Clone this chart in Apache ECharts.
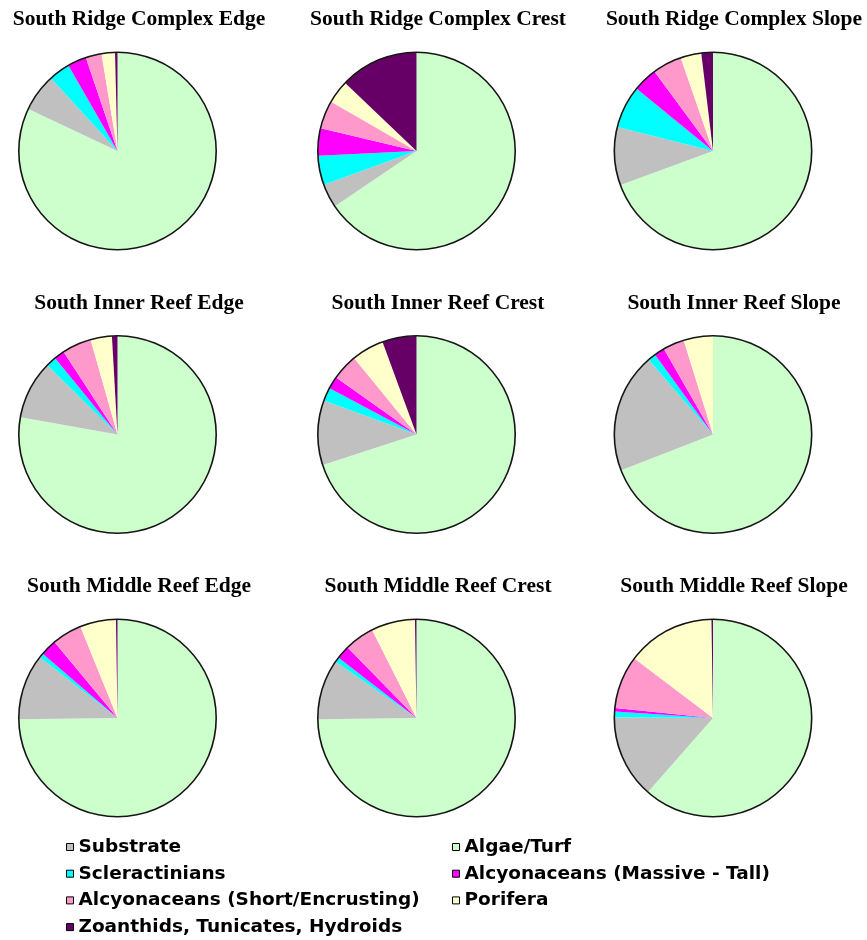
<!DOCTYPE html>
<html>
<head>
<meta charset="utf-8">
<script src="https://cdn.jsdelivr.net/npm/echarts@6/dist/echarts.min.js"></script>
<style>
  html, body { margin: 0; padding: 0; background: #ffffff; }
  #chart { width: 867px; height: 940px; }
</style>
</head>
<body>
<div id="chart"></div>
<script>
// Survey sites, in grid order (row by row)
const sites = [
  'South Ridge Complex Edge', 'South Ridge Complex Crest', 'South Ridge Complex Slope',
  'South Inner Reef Edge', 'South Inner Reef Crest', 'South Inner Reef Slope',
  'South Middle Reef Edge', 'South Middle Reef Crest', 'South Middle Reef Slope'
];

// Percent cover per site for each benthic category
const algaeTurf     = [82.1, 65.6, 69.4, 77.8, 70.0, 69.1, 75.0, 75.0, 61.7];
const substrate     = [ 6.2,  3.9,  9.5,  9.6, 10.6, 19.6, 10.8,  9.9, 13.7];
const scleractinian = [ 3.5,  4.8,  7.0,  1.7,  2.2,  1.3,  0.7,  0.8,  0.9];
const alcyMassive   = [ 3.1,  4.5,  4.0,  1.7,  2.0,  1.7,  2.7,  2.2,  0.6];
const alcyShort     = [ 2.6,  4.6,  4.8,  4.8,  4.3,  3.5,  4.9,  4.9,  8.7];
const porifera      = [ 2.2,  3.8,  3.4,  3.5,  5.3,  4.8,  5.9,  7.2, 14.5];
const zoanthids     = [ 0.4, 12.9,  1.9,  0.9,  5.6,  0.0,  0.25, 0.25, 0.25];

// Category names (slice order, clockwise from 12 o'clock)
const sliceOrder = [
  ['Algae/Turf', algaeTurf, '#CCFFCC'],
  ['Substrate', substrate, '#C0C0C0'],
  ['Scleractinians', scleractinian, '#00FFFF'],
  ['Alcyonaceans (Massive - Tall)', alcyMassive, '#FF00FF'],
  ['Alcyonaceans (Short/Encrusting)', alcyShort, '#FF99CC'],
  ['Porifera', porifera, '#FFFFCC'],
  ['Zoanthids, Tunicates, Hydroids', zoanthids, '#660066']
];

// Legend columns
const legendLeft  = ['Substrate', 'Scleractinians', 'Alcyonaceans (Short/Encrusting)', 'Zoanthids, Tunicates, Hydroids'];
const legendRight = ['Algae/Turf', 'Alcyonaceans (Massive - Tall)', 'Porifera'];

// Grid geometry
const colX   = [117.5, 416.5, 713];
const rowY   = [151, 434.5, 718];
const titleX = [139, 438, 734];
const titleTop = [8.5, 292, 575.5];
const R = 98.5;

const series = [];
const titles = [];
sites.forEach((site, i) => {
  const c = i % 3, r = Math.floor(i / 3);
  const center = [colX[c], rowY[r]];
  series.push({
    type: 'pie',
    name: site,
    center: center,
    radius: [0, R],
    startAngle: 90,
    clockwise: true,
    silent: true,
    avoidLabelOverlap: false,
    label: { show: false },
    labelLine: { show: false },
    emphasis: { disabled: true },
    itemStyle: { borderWidth: 0 },
    data: sliceOrder.map(([name, vals, color]) => ({
      name: name, value: vals[i], itemStyle: { color: color }
    }))
  });
  // dark rim around each pie
  series.push({
    type: 'pie',
    name: site + ' rim',
    center: center,
    radius: [R - 0.6, R + 1.0],
    silent: true,
    label: { show: false },
    labelLine: { show: false },
    emphasis: { disabled: true },
    data: [{ name: 'rim', value: 1, itemStyle: { color: '#151515' } }]
  });
  titles.push({
    text: site,
    left: titleX[c],
    top: titleTop[r],
    textAlign: 'center',
    padding: 0,
    textStyle: {
      fontFamily: '"Liberation Serif", "Times New Roman", serif',
      fontWeight: 'bold',
      fontSize: 21.5,
      color: '#000'
    }
  });
});

const legendText = {
  fontFamily: '"DejaVu Sans", Verdana, sans-serif',
  fontWeight: 'bold',
  fontSize: 18.5,
  lineHeight: 20,
  color: '#000'
};
const legendCommon = {
  orient: 'vertical',
  top: 837,
  padding: 0,
  itemGap: 6.7,
  itemWidth: 7,
  itemHeight: 7,
  icon: 'rect',
  selectedMode: false,
  itemStyle: { borderColor: '#000', borderWidth: 1 },
  textStyle: legendText
};

const chart = echarts.init(document.getElementById('chart'), null, { renderer: 'canvas' });
chart.setOption({
  backgroundColor: '#ffffff',
  animation: false,
  title: titles,
  legend: [
    Object.assign({}, legendCommon, { left: 66, data: legendLeft }),
    Object.assign({}, legendCommon, { left: 452, data: legendRight })
  ],
  series: series
});
</script>
</body>
</html>
